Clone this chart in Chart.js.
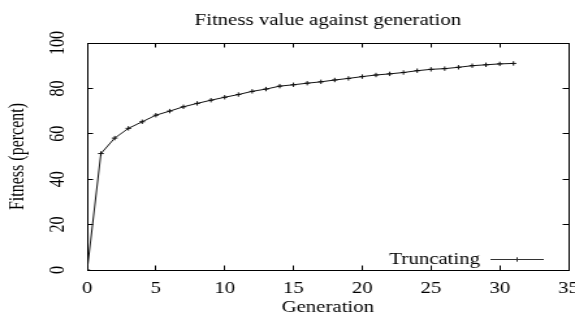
<!DOCTYPE html>
<html>
<head>
<meta charset="utf-8">
<script src="https://cdn.jsdelivr.net/npm/chart.js@4/dist/chart.umd.min.js"></script>
<style>
  html, body { margin: 0; padding: 0; background: #fff; overflow: hidden; }
  /* the reference is a gnuplot image stretched sideways, so draw narrow and stretch */
  #wrap { width: 442px; height: 313px; transform: scaleX(1.3009); transform-origin: 0 0; }
</style>
</head>
<body>
<div id="wrap"><canvas id="chart"></canvas></div>
<script>
const chartTitle = 'Fitness value against generation';
const xTitle = 'Generation';
const yTitle = 'Fitness (percent)';
const seriesName = 'Truncating';

const generations = [0, 1, 2, 3, 4, 5, 6, 7, 8, 9, 10, 11, 12, 13, 14, 15,
  16, 17, 18, 19, 20, 21, 22, 23, 24, 25, 26, 27, 28, 29, 30, 31];
const fitness = [0, 51.3, 58.1, 62.4, 65.3, 68.2, 70.0, 71.9, 73.4, 74.8, 76.1,
  77.3, 78.7, 79.7, 81.0, 81.6, 82.3, 82.9, 83.7, 84.4, 85.2, 85.9, 86.4, 87.0,
  87.8, 88.4, 88.7, 89.3, 90.0, 90.4, 90.8, 91.0];

const xRange = [0, 35];
const xStep = 5;
const yRange = [0, 100];
const yStep = 20;

const serif = '"Liberation Serif", "Times New Roman", serif';
Chart.defaults.font.family = serif;
Chart.defaults.font.size = 16;
Chart.defaults.color = '#000';

// gnuplot style key: text, then a line sample with a point in the middle
const keyPlugin = {
  id: 'gnuplotKey',
  afterDatasetsDraw(chart) {
    const { ctx, chartArea } = chart;
    const y = chartArea.bottom - 10.5;
    const x2 = chartArea.right - 19;
    const x1 = x2 - 41;
    const mid = (x1 + x2) / 2;
    ctx.save();
    ctx.strokeStyle = '#333';
    ctx.lineWidth = 1;
    ctx.beginPath();
    ctx.moveTo(x1, y);
    ctx.lineTo(x2, y);
    ctx.moveTo(mid - 2.2, y);
    ctx.lineTo(mid + 2.2, y);
    ctx.moveTo(mid, y - 2.2);
    ctx.lineTo(mid, y + 2.2);
    ctx.stroke();
    ctx.fillStyle = '#000';
    ctx.font = '16px ' + serif;
    ctx.textAlign = 'right';
    ctx.textBaseline = 'middle';
    ctx.fillText(seriesName, x1 - 8, y);
    ctx.restore();
  }
};

const tickGrid = { drawOnChartArea: false, color: '#000', tickLength: -4.5, tickColor: '#000' };
const frame = { display: true, color: '#000', width: 1 };

new Chart(document.getElementById('chart'), {
  type: 'line',
  data: {
    datasets: [{
      label: seriesName,
      data: generations.map((g, i) => ({ x: g, y: fitness[i] })),
      borderColor: '#111',
      backgroundColor: '#111',
      borderWidth: 1,
      pointStyle: 'cross',
      pointRadius: 2.2,
      pointBorderWidth: 1,
      tension: 0,
      fill: false
    }]
  },
  options: {
    responsive: true,
    maintainAspectRatio: false,
    animation: false,
    layout: { padding: 0 },
    plugins: {
      legend: { display: false },
      tooltip: { enabled: false },
      title: { display: false }
    },
    scales: {
      x: {
        type: 'linear', position: 'bottom',
        min: xRange[0], max: xRange[1],
        ticks: { stepSize: xStep, padding: 14, maxRotation: 0 },
        grid: tickGrid, border: frame,
        title: { display: true, text: xTitle, padding: { top: 0, bottom: -4 } },
        afterFit(scale) { scale.height = 43; scale.paddingLeft = 0; scale.paddingRight = 0; }
      },
      x2: {
        type: 'linear', position: 'top',
        min: xRange[0], max: xRange[1],
        ticks: { stepSize: xStep, display: false },
        grid: tickGrid, border: frame,
        title: { display: true, text: chartTitle, padding: { top: 11, bottom: 0 } },
        afterFit(scale) { scale.height = 43; scale.paddingLeft = 0; scale.paddingRight = 0; }
      },
      y: {
        type: 'linear', position: 'left',
        min: yRange[0], max: yRange[1],
        ticks: { stepSize: yStep, minRotation: 90, maxRotation: 90, crossAlign: 'center', padding: 14.5 },
        grid: tickGrid, border: frame,
        title: { display: true, text: yTitle, padding: { top: 4, bottom: 0 } },
        afterFit(scale) { scale.width = 67; scale.paddingTop = 0; scale.paddingBottom = 0; }
      },
      y2: {
        type: 'linear', position: 'right',
        min: yRange[0], max: yRange[1],
        ticks: { stepSize: yStep, display: false },
        grid: tickGrid, border: frame,
        afterFit(scale) { scale.width = 5; scale.paddingTop = 0; scale.paddingBottom = 0; }
      }
    }
  },
  plugins: [keyPlugin]
});
</script>
</body>
</html>
